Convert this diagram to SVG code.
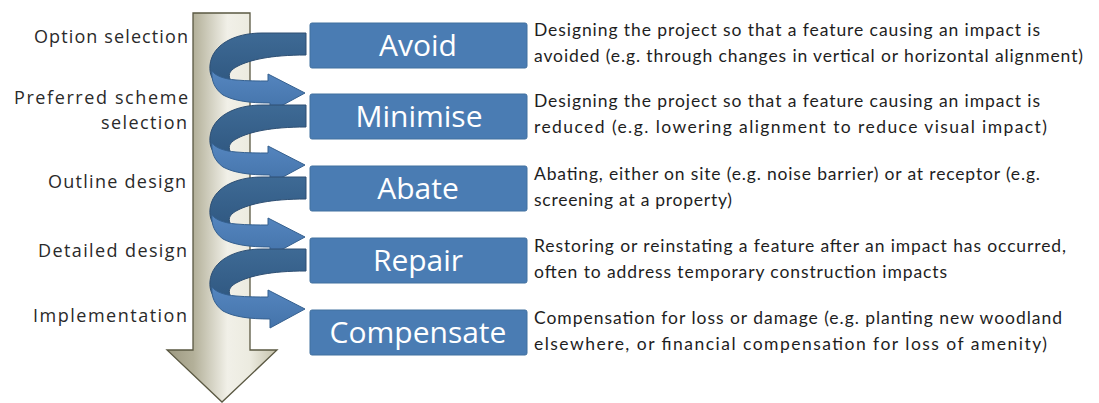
<svg xmlns="http://www.w3.org/2000/svg" width="1099" height="403" viewBox="0 0 1099 403">
<style>
.lbl{font-family:"Open Sans","Liberation Sans",sans-serif;font-size:18px;fill:#2a2a2a;text-anchor:end}
.box{fill:#4a7cb3;stroke:#41709f;stroke-width:1}
.bt{font-family:"Open Sans","Liberation Sans",sans-serif;font-size:30px;fill:#ffffff;text-anchor:middle}
.desc{font-family:Lato,"Liberation Sans",sans-serif;font-size:17.5px;fill:#1e1e1e}
.dark{fill:url(#gDark);stroke:#2e4f73;stroke-width:1}
.light{fill:url(#gLight);stroke:#35608f;stroke-width:1}
</style>
<defs>
<linearGradient id="gShaft" gradientUnits="userSpaceOnUse" x1="167" y1="0" x2="277" y2="0">
<stop offset="0" stop-color="#9c9880"/>
<stop offset="0.24" stop-color="#b3b099"/>
<stop offset="0.55" stop-color="#f1f0e8"/>
<stop offset="0.75" stop-color="#ecebe0"/>
<stop offset="1" stop-color="#c4c1aa"/>
</linearGradient>
<linearGradient id="gDark" x1="0" y1="0" x2="0" y2="1">
<stop offset="0" stop-color="#3e6a95"/>
<stop offset="1" stop-color="#2f5780"/>
</linearGradient>
<linearGradient id="gLight" x1="0" y1="0" x2="0" y2="1">
<stop offset="0" stop-color="#5586bf"/>
<stop offset="1" stop-color="#4473aa"/>
</linearGradient>
<g id="loop">
<path class="dark" d="M306,10 L262,10 C234,10 212,22 210,42 C209,52 213,58 219,63 L230,56 C228,51 230,47 238,43 C250,37 270,32 306,32 Z"/>
<path class="light" d="M212,48 C216,53 224,56 236,57 C248,58 258,58 268,58 L268,51 L305,70 L270,89 L270,80 C250,80 234,78 223,72 C215,66 211,58 212,48 Z"/>
</g>
</defs>
<rect width="1099" height="403" fill="#ffffff"/>
<g id="big-arrow">
<path d="M193,13 H250 V350 H277 L222,402 L167,350 H193 Z" fill="url(#gShaft)" stroke="#5a5842" stroke-width="1.3"/>
</g>
<g id="stages">
<text class="lbl" x="188" y="43" textLength="154" lengthAdjust="spacing">Option selection</text>
<text class="lbl" x="188" y="104" textLength="174" lengthAdjust="spacing">Preferred scheme</text>
<text class="lbl" x="187" y="129" textLength="86" lengthAdjust="spacing">selection</text>
<text class="lbl" x="186" y="188" textLength="138" lengthAdjust="spacing">Outline design</text>
<text class="lbl" x="187" y="257" textLength="149" lengthAdjust="spacing">Detailed design</text>
<text class="lbl" x="187" y="322" textLength="154" lengthAdjust="spacing">Implementation</text>
</g>
<g id="connectors">
<use href="#loop" transform="translate(0,23)"/>
<use href="#loop" transform="translate(0,95)"/>
<use href="#loop" transform="translate(0,167)"/>
<use href="#loop" transform="translate(0,239)"/>
</g>
<g id="node-avoid">
<rect class="box" x="310" y="23" width="217" height="45" rx="2"/>
<text class="bt" x="418" y="56">Avoid</text>
<text class="desc" x="534" y="36" textLength="506" lengthAdjust="spacing">Designing the project so that a feature causing an impact is</text>
<text class="desc" x="534" y="62" textLength="549" lengthAdjust="spacing">avoided (e.g. through changes in vertical or horizontal alignment)</text>
</g>
<g id="node-minimise">
<rect class="box" x="310" y="94" width="217" height="45" rx="2"/>
<text class="bt" x="419" y="127">Minimise</text>
<text class="desc" x="534" y="107" textLength="506" lengthAdjust="spacing">Designing the project so that a feature causing an impact is</text>
<text class="desc" x="534" y="133" textLength="513" lengthAdjust="spacing">reduced (e.g. lowering alignment to reduce visual impact)</text>
</g>
<g id="node-abate">
<rect class="box" x="310" y="166" width="217" height="45" rx="2"/>
<text class="bt" x="418" y="199">Abate</text>
<text class="desc" x="534" y="180" textLength="506" lengthAdjust="spacing">Abating, either on site (e.g. noise barrier) or at receptor (e.g.</text>
<text class="desc" x="534" y="206" textLength="198" lengthAdjust="spacing">screening at a property)</text>
</g>
<g id="node-repair">
<rect class="box" x="310" y="238" width="217" height="45" rx="2"/>
<text class="bt" x="418" y="271">Repair</text>
<text class="desc" x="534" y="252" textLength="532" lengthAdjust="spacing">Restoring or reinstating a feature after an impact has occurred,</text>
<text class="desc" x="534" y="278" textLength="413" lengthAdjust="spacing">often to address temporary construction impacts</text>
</g>
<g id="node-compensate">
<rect class="box" x="310" y="310" width="217" height="45" rx="2"/>
<text class="bt" x="418" y="343">Compensate</text>
<text class="desc" x="534" y="324" textLength="528" lengthAdjust="spacing">Compensation for loss or damage (e.g. planting new woodland</text>
<text class="desc" x="534" y="350" textLength="513" lengthAdjust="spacing">elsewhere, or financial compensation for loss of amenity)</text>
</g>
</svg>
